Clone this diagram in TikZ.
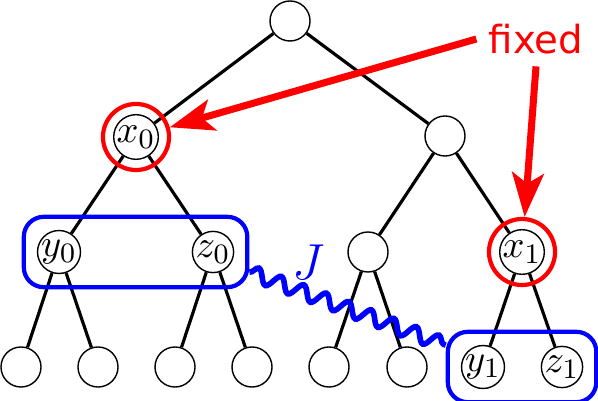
\documentclass[tikz,border=0pt]{standalone}
\usepackage{fontspec}
\newfontfamily\notefont{DejaVu Sans}
\usetikzlibrary{arrows.meta,fit,decorations.pathmorphing}
\begin{document}
\begin{tikzpicture}[x=.01cm,y=-.01cm,
  vert/.style={circle,draw,fill=white,minimum size=.4cm,inner sep=0pt,font=\fontsize{11}{13}\selectfont},
  ring/.style={circle,draw=red,line width=1.2pt,minimum size=.66cm,inner sep=0pt},
  grp/.style={draw=blue,line width=1.2pt,rounded corners=.2cm,inner sep=.13cm},
  branch/.style={line width=.9pt},
  fixarrow/.style={red,line width=2pt,-{Stealth[length=12.5pt,width=9pt,inset=3pt]}}]
\useasboundingbox (0,0) rectangle (598,401);
% tree
\node[vert] (r) at (290,21) {};
\node[vert] (x0) at (136,137) {$x_0$};
\node[vert] (a) at (445,136) {};
\node[vert] (y0) at (59,252) {$y_0$};
\node[vert] (z0) at (213,252) {$z_0$};
\node[vert] (b) at (368,252) {};
\node[vert] (x1) at (522,252) {$x_1$};
\node[vert] (l1) at (21,367) {};
\node[vert] (l2) at (98,367) {};
\node[vert] (l3) at (175,367) {};
\node[vert] (l4) at (252,367) {};
\node[vert] (l5) at (329,367) {};
\node[vert] (l6) at (407,367) {};
\node[vert] (y1) at (483,367) {$y_1$};
\node[vert] (z1) at (562,367) {$z_1$};
\draw[branch] (r)--(x0) (r)--(a);
\draw[branch] (x0)--(y0) (x0)--(z0) (a)--(b) (a)--(x1);
\draw[branch] (y0)--(l1) (y0)--(l2) (z0)--(l3) (z0)--(l4);
\draw[branch] (b)--(l5) (b)--(l6) (x1)--(y1) (x1)--(z1);
% fixed vertices
\node[ring] (fx0) at (x0) {};
\node[ring] (fx1) at (x1) {};
% groups and the link
\node[grp,fit=(y0)(z0)] (g0) {};
\node[grp,fit=(y1)(z1)] (g1) {};
\draw[blue,line width=1.6pt,decorate,decoration={snake,segment length=.24cm,amplitude=.07cm}] (g0.-10)--(g1.164);
\node[blue,font=\Large] (jl) at (309,262) {$J$};
% labels
\node[red,font=\notefont\fontsize{11}{13}\selectfont] (fixed) at (536,39) {fixed};
\draw[fixarrow] (fixed.west)--(fx0);
\draw[fixarrow] (fixed.south)--(fx1);
\end{tikzpicture}
\end{document}
